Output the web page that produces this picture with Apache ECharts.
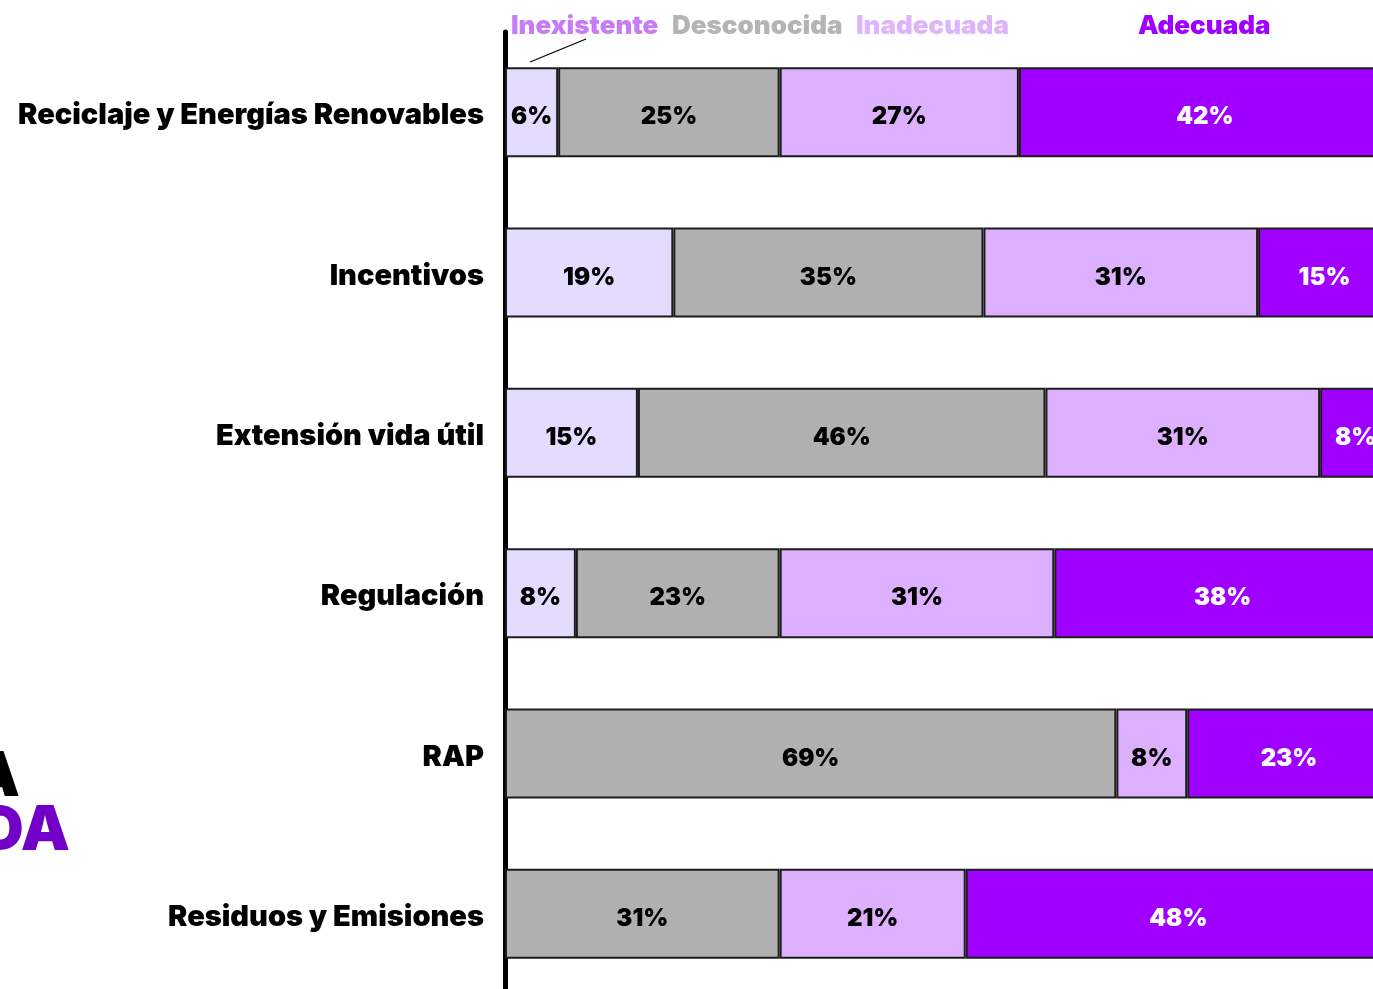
<!DOCTYPE html>
<html>
<head>
<meta charset="utf-8">
<script src="https://cdn.jsdelivr.net/npm/echarts@6/dist/echarts.min.js"></script>
<style>
  html, body { margin: 0; padding: 0; background: #ffffff; }
  #chart { width: 1373px; height: 989px; }
</style>
</head>
<body>
<div id="chart"></div>
<script>
// Categories (top to bottom) and the share of each assessment level, in %
const categories = [
  'Reciclaje y Energías Renovables',
  'Incentivos',
  'Extensión vida útil',
  'Regulación',
  'RAP',
  'Residuos y Emisiones'
];
const seriesNames = ['Inexistente', 'Desconocida', 'Inadecuada', 'Adecuada'];
const inexistente = [6, 19, 15, 8, 0, 0];
const desconocida = [25, 35, 46, 23, 69, 31];
const inadecuada  = [27, 31, 31, 31, 8, 21];
const adecuada    = [42, 15, 8, 38, 23, 48];

const fills      = ['#e4dcff', '#b0b0b0', '#dcb0fc', '#a000ff'];
const legendInk  = ['#c77cf5', '#b4b4b4', '#deb4fb', '#a000ff'];
const labelInk   = ['#000000', '#000000', '#000000', '#ffffff'];
const FONT = 'Inter, "Noto Sans", "DejaVu Sans", sans-serif';

const values = [inexistente, desconocida, inadecuada, adecuada];

const chart = echarts.init(document.getElementById('chart'), null, { renderer: 'canvas' });

const series = seriesNames.map((name, i) => ({
  name,
  type: 'bar',
  stack: 'total',
  barWidth: 90,
  data: values[i].map(v => (v > 0 ? v : '-')),
  itemStyle: { color: fills[i], borderColor: '#1c1c1c', borderWidth: 2 },
  label: {
    show: true,
    position: 'inside',
    offset: [0, 5],
    formatter: p => p.value + '%',
    color: labelInk[i],
    fontFamily: FONT,
    fontWeight: 900,
    fontSize: 24
  },
  emphasis: { disabled: true },
  silent: true
}));

// Legend row of coloured words above the bars
const legendX = [511, 672, 856, 1138];
const graphic = seriesNames.map((name, i) => ({
  type: 'text',
  left: legendX[i],
  top: 13,
  style: {
    text: name,
    fill: legendInk[i],
    font: `900 26px ${FONT}`
  }
}));
// Pointer from "Inexistente" to its small segment
graphic.push({
  type: 'line',
  shape: { x1: 586, y1: 39, x2: 530, y2: 62 },
  style: { stroke: '#000000', lineWidth: 1.2 }
});
// Large heading words running off the left edge
graphic.push({
  type: 'text',
  x: 20, y: 808,
  style: { text: 'ADA', fill: '#000000', font: `900 62px ${FONT}`, textAlign: 'right', textVerticalAlign: 'bottom' }
});
graphic.push({
  type: 'text',
  x: 70, y: 862,
  style: { text: 'ADA', fill: '#7300c9', font: `900 62px ${FONT}`, textAlign: 'right', textVerticalAlign: 'bottom' }
});

chart.setOption({
  animation: false,
  backgroundColor: '#ffffff',
  grid: {
    left: 505, top: 32, width: 886, height: 962,
    containLabel: false,
    outerBoundsMode: 'none'
  },
  xAxis: {
    type: 'value',
    min: 0,
    max: 100,
    show: false
  },
  yAxis: {
    type: 'category',
    data: categories,
    inverse: true,
    axisLine: { show: true, lineStyle: { color: '#000000', width: 5 } },
    axisTick: { show: false },
    axisLabel: {
      margin: 21,
      formatter: v => '{c|' + v + '}',
      rich: {
        c: {
          padding: [7, 0, 0, 0],
          color: '#000000',
          fontFamily: FONT,
          fontWeight: 900,
          fontSize: 29
        }
      }
    },
    splitLine: { show: false }
  },
  series,
  graphic
});
</script>
</body>
</html>
